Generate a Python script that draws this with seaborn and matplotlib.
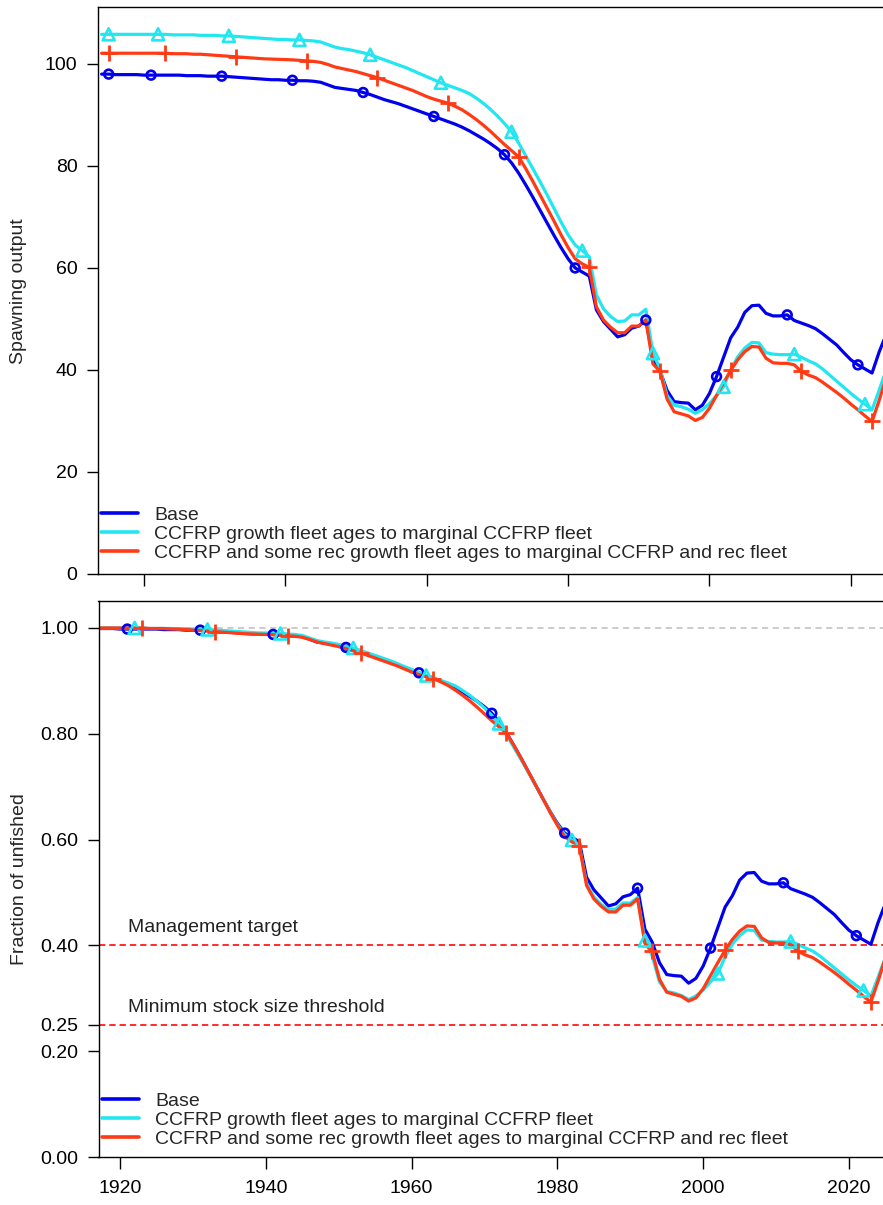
import numpy as np
import pandas as pd
import matplotlib
matplotlib.use("Agg")
import matplotlib.pyplot as plt
import matplotlib.transforms as mtransforms
from matplotlib.lines import Line2D
import seaborn as sns

# ---------------- data ----------------
years = list(range(1914, 2026))

base_ssb = [
    98.0, 98.0, 97.9, 97.9, 97.9, 97.9, 97.8, 97.8, 97.8, 97.8,   # 1914-1923
    97.8, 97.8, 97.7, 97.7, 97.7, 97.6, 97.6, 97.6, 97.5, 97.4,   # 1924-1933
    97.3, 97.2, 97.1, 97.0, 96.9, 96.9, 96.8, 96.8, 96.7, 96.7,   # 1934-1943
    96.6, 96.4, 95.9, 95.4, 95.2, 95.0, 94.8, 94.4, 94.0, 93.5,   # 1944-1953
    93.0, 92.6, 92.2, 91.7, 91.2, 90.7, 90.2, 89.7, 89.2, 88.7,   # 1954-1963
    88.2, 87.6, 86.9, 86.1, 85.3, 84.4, 83.4, 82.2, 80.6, 78.6,   # 1964-1973
    76.3, 73.9, 71.4, 68.9, 66.4, 64.0, 61.8, 60.0, 59.2, 58.4,   # 1974-1983
    51.8, 49.5, 48.0, 46.5, 46.9, 48.2, 48.6, 49.8, 42.2, 39.8,   # 1984-1993
    36.0, 33.8, 33.6, 33.5, 32.2, 33.1, 35.4, 38.7, 42.5, 46.3,   # 1994-2003
    48.4, 51.3, 52.6, 52.7, 51.1, 50.6, 50.6, 50.8, 49.7, 49.2,   # 2004-2013
    48.7, 48.1, 47.1, 46.0, 44.9, 43.4, 42.0, 41.0, 40.2, 39.4,   # 2014-2023
    43.5, 47.0,                                                   # 2024-2025
]

ccfrp_ssb = [
    105.8, 105.8, 105.8, 105.8, 105.8, 105.8, 105.8, 105.8, 105.8, 105.8,
    105.7, 105.7, 105.7, 105.7, 105.6, 105.6, 105.6, 105.5, 105.5, 105.4,
    105.3, 105.2, 105.1, 105.0, 104.9, 104.8, 104.8, 104.7, 104.7, 104.6,
    104.5, 104.3, 103.8, 103.3, 103.0, 102.8, 102.5, 102.2, 101.8, 101.3,
    100.8, 100.3, 99.8, 99.3, 98.7, 98.1, 97.5, 96.9, 96.3, 95.8,
    95.3, 94.8, 94.2, 93.3, 92.3, 91.1, 89.8, 88.3, 86.7, 84.5,
    82.0, 79.5, 77.0, 74.4, 71.7, 69.0, 66.5, 64.5, 63.4, 62.2,
    54.7, 52.0, 50.5, 49.5, 49.6, 50.8, 50.8, 51.9, 43.3, 40.2,
    35.0, 33.1, 32.8, 32.3, 31.5, 32.2, 33.4, 35.0, 36.7, 40.0,
    42.6, 44.3, 45.4, 45.3, 43.4, 43.1, 43.0, 43.0, 43.1, 42.5,
    41.8, 41.2, 40.2, 39.0, 37.8, 36.6, 35.4, 34.3, 33.3, 32.2,
    36.0, 40.0,
]

ccfrp_rec_ssb = [
    102.1, 102.1, 102.1, 102.1, 102.1, 102.1, 102.1, 102.1, 102.1, 102.1,
    102.0, 102.0, 102.0, 101.9, 101.9, 101.8, 101.7, 101.6, 101.5, 101.4,
    101.3, 101.2, 101.1, 101.0, 100.95, 100.9, 100.85, 100.8, 100.7, 100.6,
    100.5, 100.3, 99.9, 99.4, 99.1, 98.8, 98.5, 98.1, 97.7, 97.3,
    96.8, 96.3, 95.8, 95.3, 94.8, 94.2, 93.6, 93.1, 92.7, 92.3,
    91.7, 91.0, 90.1, 89.1, 88.0, 86.8, 85.5, 84.2, 83.0, 81.8,
    79.5, 77.0, 74.4, 71.8, 69.2, 66.5, 64.0, 61.8, 60.8, 60.1,
    52.4, 49.8, 48.4, 47.3, 47.3, 48.6, 48.6, 49.8, 41.2, 39.7,
    34.3, 31.8, 31.4, 31.0, 30.1, 30.7, 32.5, 35.0, 37.5, 39.9,
    42.0, 43.6, 44.6, 44.5, 42.3, 41.4, 41.3, 41.3, 41.0, 39.7,
    39.0, 38.5, 37.6, 36.6, 35.6, 34.5, 33.3, 32.2, 31.0, 29.9,
    34.0, 38.5,
]

model_labels = [
    "Base",
    "CCFRP growth fleet ages to marginal CCFRP fleet",
    "CCFRP and some rec growth fleet ages to marginal CCFRP and rec fleet",
]
model_colors = ["#0000EE", "#22E6F0", "#FF3A14"]
model_markers = ["o", "^", "+"]

# years carrying a symbol on each line
ssb_marker_years = [
    [1915] + list(range(1921, 2022, 10)),
    [1915] + list(range(1922, 2023, 10)),
    [1915] + list(range(1923, 2024, 10)),
]
frac_marker_years = [
    list(range(1921, 2022, 10)),
    list(range(1922, 2023, 10)),
    list(range(1923, 2024, 10)),
]

ssb_ticks = [0, 20, 40, 60, 80, 100]
frac_ticks = [0.00, 0.20, 0.25, 0.40, 0.60, 0.80, 1.00]
year_ticks = [1920, 1940, 1960, 1980, 2000, 2020]
target_level = 0.40
msst_level = 0.25

# ---------------- frames ----------------
series = [base_ssb, ccfrp_ssb, ccfrp_rec_ssb]
rows = []
for lab, vals in zip(model_labels, series):
    unfished = vals[0]
    for yr, v in zip(years, vals):
        rows.append({"Year": yr, "model": lab, "ssb": v, "frac": v / unfished})
df = pd.DataFrame(rows)

# ---------------- style ----------------
sns.set_theme(style="ticks")
plt.rcParams["font.family"] = ["Liberation Sans", "DejaVu Sans"]
plt.rcParams["axes.linewidth"] = 1.0
plt.rcParams["axes.edgecolor"] = "black"

FS = 14
W, H = 883, 1205
fig = plt.figure(figsize=(W / 100, H / 100), dpi=100)
ax1 = fig.add_axes([97.7 / W, 1 - 574 / H, (W - 97.7) / W, (574 - 7.3) / H])
ax2 = fig.add_axes([98.5 / W, 1 - 1157 / H, (W - 98.5) / W, (1157 - 601) / H])

palette = dict(zip(model_labels, model_colors))


def draw(ax, ycol, marker_years, data):
    sns.lineplot(data=data, x="Year", y=ycol, hue="model", palette=palette,
                 hue_order=model_labels, lw=2.3, legend=False, ax=ax,
                 sort=True, estimator=None)
    for lab, col, mk, myrs in zip(model_labels, model_colors, model_markers, marker_years):
        sub = data[(data["model"] == lab) & (data["Year"].isin(myrs))]
        if mk == "+":
            sns.scatterplot(data=sub, x="Year", y=ycol, marker="+", color=col,
                            s=140, linewidth=2.0, ax=ax, legend=False, zorder=5)
        else:
            sns.scatterplot(data=sub, x="Year", y=ycol, marker=mk,
                            facecolor="none", edgecolor=col,
                            s=(40 if mk == "o" else 75), linewidth=1.9,
                            ax=ax, legend=False, zorder=5)


draw(ax1, "ssb", ssb_marker_years, df)
draw(ax2, "frac", frac_marker_years, df[df["Year"] >= 1916])

# reference lines (bottom)
ax2.axhline(1.0, color="#BDBDBD", lw=1.1, ls=(0, (4, 3)), zorder=0)
ax2.axhline(target_level, color="#FF1A1A", lw=1.3, ls=(0, (3.5, 2.2)), zorder=1)
ax2.axhline(msst_level, color="#FF1A1A", lw=1.3, ls=(0, (3.5, 2.2)), zorder=1)
trans = mtransforms.blended_transform_factory(ax2.transAxes, ax2.transData)
ax2.text(0.038, target_level + 0.0245, "Management target", transform=trans,
         fontsize=FS, ha="left", va="baseline", color="#222222")
ax2.text(0.038, msst_level + 0.025, "Minimum stock size threshold", transform=trans,
         fontsize=FS, ha="left", va="baseline", color="#222222")

# axes
ax1.set_xlim(1913.45, 2024.55)
ax1.set_ylim(0, 111.1)
ax2.set_xlim(1917.05, 2024.66)
ax2.set_ylim(0, 1.051)

ax1.set_yticks(ssb_ticks)
ax1.set_yticklabels([str(t) for t in ssb_ticks])
ax1.set_xticks(year_ticks)
ax1.set_xticklabels([])
ax2.set_yticks(frac_ticks)
ax2.set_yticklabels([f"{t:.2f}" for t in frac_ticks])
ax2.set_xticks(year_ticks)
ax2.set_xticklabels([str(t) for t in year_ticks])

for ax in (ax1, ax2):
    ax.spines["right"].set_visible(False)
    for s in ("left", "top", "bottom"):
        ax.spines[s].set_visible(True)
        ax.spines[s].set_linewidth(1.0)
    ax.tick_params(axis="y", direction="out", length=8, width=1, labelsize=FS,
                   pad=6.5, colors="black")
    ax.tick_params(axis="x", direction="out", length=8.5, width=1, labelsize=FS,
                   pad=8, colors="black")
    ax.set_xlabel("")
    ax.grid(False)

ax1.set_ylabel("Spawning output", fontsize=FS)
ax2.set_ylabel("Fraction of unfished", fontsize=FS)
ax1.yaxis.set_label_coords(-0.090, 0.5)
ax2.yaxis.set_label_coords(-0.0899, 0.5)

handles = [Line2D([], [], color=c, lw=2.6) for c in model_colors]
for ax, y0 in ((ax1, 0.021), (ax2, 0.016)):
    ax.legend(handles, model_labels, loc="lower left", bbox_to_anchor=(0.0042, y0),
              borderaxespad=0, borderpad=0, frameon=False, fontsize=FS,
              handlelength=1.9, handletextpad=0.85, labelspacing=0.08)

fig.savefig("out.png", dpi=100)
